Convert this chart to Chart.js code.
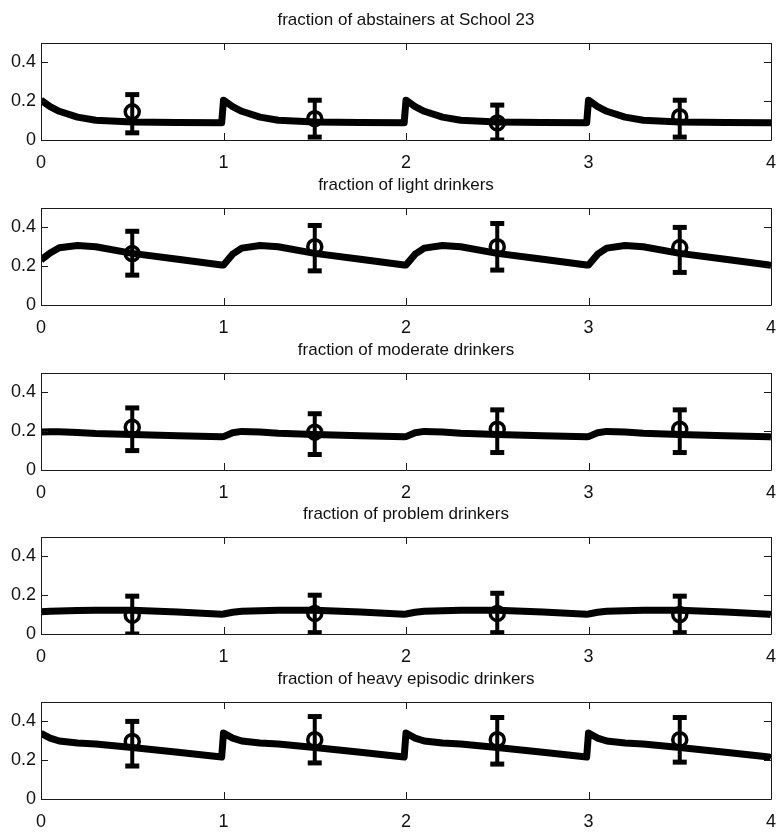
<!DOCTYPE html>
<html>
<head>
<meta charset="utf-8">
<script src="https://cdn.jsdelivr.net/npm/chart.js@4.4.1/dist/chart.umd.min.js"></script>
<style>
  html, body { margin: 0; padding: 0; background: #ffffff; }
  #wrap { position: relative; width: 778px; height: 832px; overflow: hidden; background: #ffffff; }
  canvas { position: absolute; left: 0; }
</style>
</head>
<body>
<div id="wrap"></div>
<script>
// ---------- data ----------
const titles = [
  "fraction of abstainers at School 23",
  "fraction of light drinkers",
  "fraction of moderate drinkers",
  "fraction of problem drinkers",
  "fraction of heavy episodic drinkers"
];

const modelTimes = [
  0, 0.05, 0.1, 0.2, 0.3, 0.5, 0.75, 0.99,
  1, 1.05, 1.1, 1.2, 1.3, 1.5, 1.75, 1.99,
  2, 2.05, 2.1, 2.2, 2.3, 2.5, 2.75, 2.99,
  3, 3.05, 3.1, 3.2, 3.3, 3.5, 3.75, 3.99,
  4
];

const abstainersModel = [
  0.205, 0.172, 0.148, 0.118, 0.102, 0.093, 0.090, 0.089,
  0.205, 0.172, 0.148, 0.118, 0.102, 0.093, 0.090, 0.089,
  0.205, 0.172, 0.148, 0.118, 0.102, 0.093, 0.090, 0.089,
  0.205, 0.172, 0.148, 0.118, 0.102, 0.093, 0.090, 0.089,
  0.089
];
const lightModel = [
  0.232, 0.268, 0.295, 0.307, 0.300, 0.266, 0.236, 0.206,
  0.206, 0.262, 0.293, 0.307, 0.300, 0.266, 0.236, 0.206,
  0.206, 0.262, 0.293, 0.307, 0.300, 0.266, 0.236, 0.206,
  0.206, 0.262, 0.293, 0.307, 0.300, 0.266, 0.236, 0.206,
  0.205
];
const moderateModel = [
  0.196, 0.197, 0.197, 0.193, 0.188, 0.183, 0.176, 0.171,
  0.172, 0.192, 0.199, 0.196, 0.190, 0.183, 0.176, 0.171,
  0.172, 0.192, 0.199, 0.196, 0.190, 0.183, 0.176, 0.171,
  0.172, 0.192, 0.199, 0.196, 0.190, 0.183, 0.176, 0.171,
  0.170
];
const problemModel = [
  0.115, 0.117, 0.119, 0.121, 0.122, 0.122, 0.113, 0.102,
  0.103, 0.112, 0.117, 0.120, 0.122, 0.122, 0.113, 0.102,
  0.103, 0.112, 0.117, 0.120, 0.122, 0.122, 0.113, 0.102,
  0.103, 0.112, 0.117, 0.120, 0.122, 0.122, 0.113, 0.102,
  0.100
];
const heavyModel = [
  0.338, 0.314, 0.299, 0.289, 0.283, 0.265, 0.241, 0.216,
  0.340, 0.314, 0.299, 0.289, 0.283, 0.265, 0.241, 0.216,
  0.340, 0.314, 0.299, 0.289, 0.283, 0.265, 0.241, 0.216,
  0.340, 0.314, 0.299, 0.289, 0.283, 0.265, 0.241, 0.216,
  0.212
];

const obsTimes = [0.5, 1.5, 2.5, 3.5];

const abstainersObs  = [0.145, 0.110, 0.088, 0.120];
const abstainersLow  = [0.037, 0.015, 0.000, 0.015];
const abstainersHigh = [0.234, 0.205, 0.180, 0.205];

const lightObs  = [0.265, 0.300, 0.300, 0.296];
const lightLow  = [0.154, 0.176, 0.180, 0.168];
const lightHigh = [0.380, 0.410, 0.420, 0.400];

const moderateObs  = [0.220, 0.195, 0.210, 0.210];
const moderateLow  = [0.100, 0.080, 0.090, 0.090];
const moderateHigh = [0.320, 0.290, 0.310, 0.310];

const problemObs  = [0.097, 0.106, 0.106, 0.100];
const problemLow  = [0.000, 0.007, 0.007, 0.007];
const problemHigh = [0.195, 0.200, 0.210, 0.195];

const heavyObs  = [0.297, 0.306, 0.306, 0.306];
const heavyLow  = [0.170, 0.186, 0.180, 0.190];
const heavyHigh = [0.400, 0.425, 0.420, 0.420];

const xTicks = [0, 1, 2, 3, 4];
const yTicks = [0, 0.2, 0.4];

const panels = [
  { model: abstainersModel, obs: abstainersObs, low: abstainersLow, high: abstainersHigh },
  { model: lightModel,      obs: lightObs,      low: lightLow,      high: lightHigh },
  { model: moderateModel,   obs: moderateObs,   low: moderateLow,   high: moderateHigh },
  { model: problemModel,    obs: problemObs,    low: problemLow,    high: problemHigh },
  { model: heavyModel,      obs: heavyObs,      low: heavyLow,      high: heavyHigh }
];

// ---------- drawing ----------
const canvasTops = [0, 165, 330, 494, 659];
const CANVAS_W = 783;
const FONT = "'Liberation Sans', Arial, sans-serif";

const boxPlugin = {
  id: 'matlabBox',
  afterDraw(chart) {
    const ctx = chart.ctx, a = chart.chartArea;
    const xs = chart.scales.x, ys = chart.scales.y;
    ctx.save();
    ctx.strokeStyle = '#1a1a1a';
    ctx.lineWidth = 1;
    ctx.beginPath();
    ctx.rect(Math.round(a.left) + 0.5, Math.round(a.top) + 0.5,
             Math.round(a.right - a.left), Math.round(a.bottom - a.top));
    ctx.stroke();
    const L = 7;
    ctx.beginPath();
    xTicks.forEach(v => {
      const px = Math.round(xs.getPixelForValue(v)) + 0.5;
      ctx.moveTo(px, a.top); ctx.lineTo(px, a.top + L);
      ctx.moveTo(px, a.bottom); ctx.lineTo(px, a.bottom - L);
    });
    yTicks.forEach(v => {
      const py = Math.round(ys.getPixelForValue(v)) + 0.5;
      ctx.moveTo(a.left, py); ctx.lineTo(a.left + L, py);
      ctx.moveTo(a.right, py); ctx.lineTo(a.right - L, py);
    });
    ctx.stroke();
    ctx.restore();
  }
};

const wrap = document.getElementById('wrap');

panels.forEach((p, i) => {
  const cv = document.createElement('canvas');
  cv.width = CANVAS_W; cv.height = 180;
  cv.style.top = canvasTops[i] + 'px';
  cv.style.width = CANVAS_W + 'px'; cv.style.height = '180px';
  wrap.appendChild(cv);

  const modelData = modelTimes.map((t, k) => ({ x: t, y: p.model[k] }));
  const obsData = obsTimes.map((t, k) => ({ x: t, y: p.obs[k] }));
  const barData = [];
  obsTimes.forEach((t, k) => {
    barData.push({ x: t, y: p.low[k] });
    barData.push({ x: t, y: p.high[k] });
    barData.push({ x: t, y: null });
  });

  new Chart(cv, {
    type: 'line',
    data: {
      datasets: [
        {
          label: 'observed',
          data: obsData,
          showLine: false,
          pointStyle: 'circle',
          pointRadius: 7,
          pointBorderWidth: 3.5,
          pointBorderColor: '#000',
          pointBackgroundColor: 'rgba(0,0,0,0)'
        },
        {
          label: 'error',
          data: barData,
          borderColor: '#000',
          borderWidth: 4,
          spanGaps: false,
          pointStyle: 'line',
          pointRadius: 7,
          pointBorderWidth: 5,
          pointBorderColor: '#000'
        },
        {
          label: 'model',
          data: modelData,
          borderColor: '#000',
          borderWidth: 7,
          pointRadius: 0,
          tension: 0,
          borderJoinStyle: 'round',
          borderCapStyle: 'butt'
        }
      ]
    },
    options: {
      responsive: false,
      animation: false,
      devicePixelRatio: 1,
      events: [],
      layout: { padding: { left: 0, right: 2, top: 0, bottom: 0 } },
      plugins: {
        legend: { display: false },
        tooltip: { enabled: false },
        title: {
          display: true,
          text: titles[i],
          fullSize: false,
          color: '#111',
          font: { family: FONT, size: 17, weight: 'normal', lineHeight: 1.2 },
          padding: { top: 10, bottom: 12.6 }
        }
      },
      scales: {
        x: {
          type: 'linear',
          min: 0, max: 4,
          grid: { display: false, drawTicks: false },
          border: { display: false },
          afterBuildTicks: s => { s.ticks = xTicks.map(v => ({ value: v })); },
          afterFit: s => { s.height = 40; s.paddingLeft = 0; s.paddingRight = 0; },
          ticks: {
            color: '#111',
            padding: 12,
            maxRotation: 0,
            font: { family: FONT, size: 18 },
            callback: v => String(v)
          }
        },
        y: {
          type: 'linear',
          min: 0, max: 0.5,
          grid: { display: false, drawTicks: false },
          border: { display: false },
          afterBuildTicks: s => { s.ticks = yTicks.map(v => ({ value: v })); },
          afterFit: s => { s.width = 41; s.paddingTop = 0; s.paddingBottom = 0; },
          ticks: {
            color: '#111',
            padding: 5,
            font: { family: FONT, size: 18 },
            callback: v => String(v)
          }
        }
      }
    },
    plugins: [boxPlugin]
  });
});
</script>
</body>
</html>
